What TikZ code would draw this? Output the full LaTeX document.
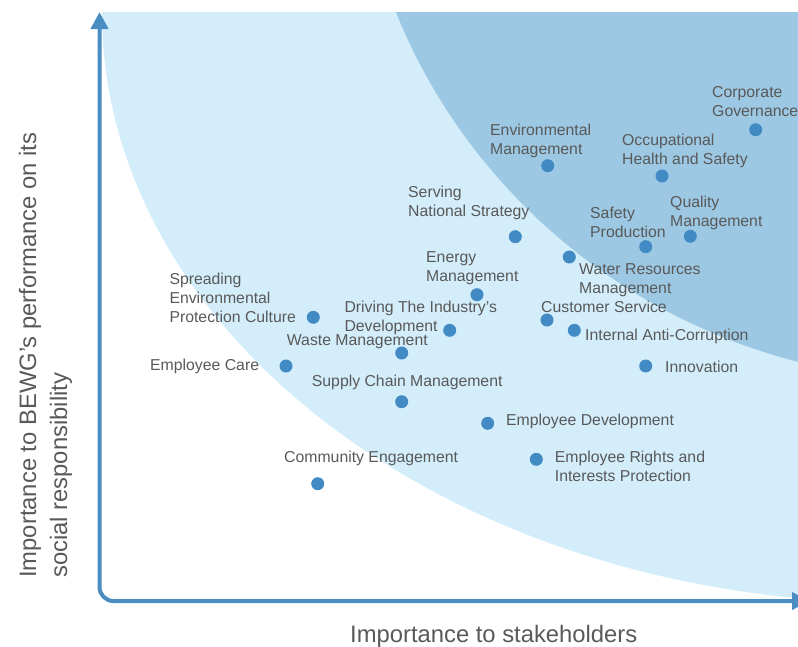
\documentclass[tikz,border=0pt]{standalone}
\usepackage{fontspec}
\setmainfont{Liberation Sans}
\usetikzlibrary{arrows.meta}

\definecolor{axisblue}{HTML}{4A8DC2}
\definecolor{dotblue}{HTML}{428AC3}
\definecolor{lightzone}{HTML}{D3EDFA}
\definecolor{darkzone}{HTML}{9CC8E3}
\definecolor{labelgray}{HTML}{595959}

\begin{document}
\begin{tikzpicture}[x=1pt,y=-1pt,
    issue/.style={circle,fill=dotblue,inner sep=0pt,minimum size=13pt},
    lbl/.style={text=labelgray,inner sep=0pt,align=left,
      font=\fontsize{15.8}{19}\selectfont},
    axistitle/.style={text=labelgray,inner sep=0pt,align=left,
      font=\fontsize{23.8}{31}\selectfont},
    axis/.style={draw=axisblue,line width=4pt,rounded corners=14pt,
      {Triangle[length=17pt,width=17pt]}-{Triangle[length=17pt,width=17pt]}}]
      \useasboundingbox (0,0) rectangle (798,646);

      \coordinate (ytip) at (99.5,12);
      \coordinate (origin) at (99.5,601);
      \coordinate (xtip) at (809,601);

      % zones
      \begin{scope}
        \clip (ytip) rectangle (798,601);
        \fill [lightzone] (900,12) ellipse [x radius=798, y radius=591];
        \fill [darkzone] (950,-200) ellipse [x radius=595, y radius=581];
      \end{scope}

      \draw [axis] (ytip) -- (origin) -- (xtip);

      \coordinate (gov) at (755.7,129.7);
      \coordinate (env) at (547.7,165.7);
      \coordinate (ohs) at (662,176);
      \coordinate (nat) at (515.3,236.7);
      \coordinate (saf) at (645.7,246.7);
      \coordinate (qua) at (690.3,236.3);
      \coordinate (wat) at (569.3,257);
      \coordinate (ene) at (477,294.7);
      \coordinate (cus) at (547,320);
      \coordinate (spr) at (313.3,317.3);
      \coordinate (drv) at (449.7,330.3);
      \coordinate (wst) at (401.7,353);
      \coordinate (car) at (286,366);
      \coordinate (sup) at (401.7,401.7);
      \coordinate (cor) at (574.3,330.3);
      \coordinate (inn) at (645.7,366);
      \coordinate (dev) at (487.7,423.3);
      \coordinate (com) at (317.7,483.7);
      \coordinate (rig) at (536.3,459.3);

      \node [issue] (govdot) at (gov) {};
      \node [issue] (envdot) at (env) {};
      \node [issue] (ohsdot) at (ohs) {};
      \node [issue] (natdot) at (nat) {};
      \node [issue] (safdot) at (saf) {};
      \node [issue] (quadot) at (qua) {};
      \node [issue] (watdot) at (wat) {};
      \node [issue] (enedot) at (ene) {};
      \node [issue] (cusdot) at (cus) {};
      \node [issue] (sprdot) at (spr) {};
      \node [issue] (drvdot) at (drv) {};
      \node [issue] (wstdot) at (wst) {};
      \node [issue] (cardot) at (car) {};
      \node [issue] (supdot) at (sup) {};
      \node [issue] (cordot) at (cor) {};
      \node [issue] (inndot) at (inn) {};
      \node [issue] (devdot) at (dev) {};
      \node [issue] (comdot) at (com) {};
      \node [issue] (rigdot) at (rig) {};

      % base = baseline of the last line
      \node [lbl,anchor=base west] (govtext) at (712,116) {Corporate\\Governance};
      \node [lbl,anchor=base west] (envtext) at (490,154) {Environmental\\Management};
      \node [lbl,anchor=base west] (ohstext) at (622,164.5) {Occupational\\Health and Safety};
      \node [lbl,anchor=base west] (nattext) at (408,216.5) {Serving\\National Strategy};
      \node [lbl,anchor=base west] (saftext) at (590,237.5) {Safety\\Production};
      \node [lbl,anchor=base west] (quatext) at (670,226) {Quality\\Management};
      \node [lbl,anchor=base west] (wattext) at (579,293.3) {Water Resources\\Management};
      \node [lbl,anchor=base west] (enetext) at (426,281.7) {Energy\\Management};
      \node [lbl,anchor=base west] (custext) at (541,312) {Customer Service};
      \node [lbl,anchor=base west] (sprtext) at (169.3,322.3) {Spreading\\Environmental\\Protection Culture};
      \node [lbl,anchor=base west] (drvtext) at (344.3,331.3) {Driving The Industry’s\\Development};
      \node [lbl,anchor=base west] (wsttext) at (286.7,345.3) {Waste Management};
      \node [lbl,anchor=base east] (cartext) at (259.3,370) {Employee Care};
      \node [lbl,anchor=base west] (suptext) at (311.7,386) {Supply Chain Management};
      \node [lbl,anchor=base west] (cortext) at (585,340) {Internal Anti-Corruption};
      \node [lbl,anchor=base west] (inntext) at (665,372.7) {Innovation};
      \node [lbl,anchor=base west] (devtext) at (506,425.5) {Employee Development};
      \node [lbl,anchor=base west] (comtext) at (284,462.5) {Community Engagement};
      \node [lbl,anchor=base west] (rigtext) at (554.7,481) {Employee Rights and\\Interests Protection};

      \node [axistitle,anchor=base west] (xtitle) at (350,642) {Importance to stakeholders};
      \node [axistitle,anchor=base west,rotate=90] (ytitle) at (67,578)
        {Importance to BEWG’s performance on its\\social responsibility};
\end{tikzpicture}
\end{document}
